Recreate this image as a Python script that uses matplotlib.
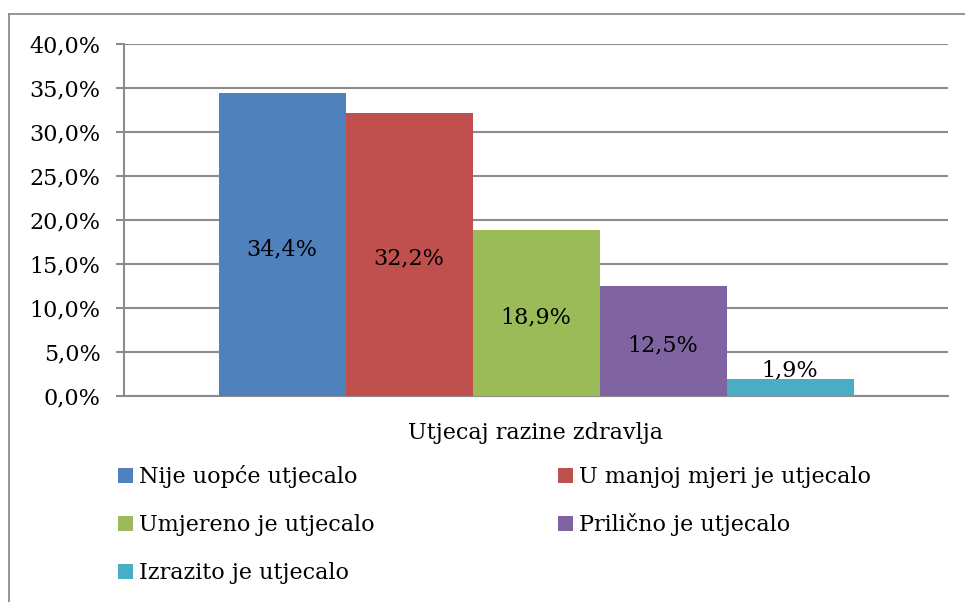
import matplotlib.pyplot as plt
from matplotlib.lines import Line2D

# data
categories = ["Utjecaj razine zdravlja"]
series_names = [
    "Nije uopće utjecalo",
    "U manjoj mjeri je utjecalo",
    "Umjereno je utjecalo",
    "Prilično je utjecalo",
    "Izrazito je utjecalo",
]
values = [34.4, 32.2, 18.9, 12.5, 1.9]
colors = ["#4F81BD", "#C0504D", "#9BBB59", "#8064A2", "#4BACC6"]
yticks = [0, 5, 10, 15, 20, 25, 30, 35, 40]

plt.rcParams["font.family"] = ["DejaVu Serif"]
W, H = 965, 602
FS = 16
fig = plt.figure(figsize=(W / 100, H / 100), dpi=100)

grid_c = "#8c8c8c"

# outer chart frame (only top and left edges visible in the crop)
fig.add_artist(Line2D([9 / W, 1], [1 - 14 / H, 1 - 14 / H], color=grid_c, lw=1.3, transform=fig.transFigure))
fig.add_artist(Line2D([9 / W, 9 / W], [0, 1 - 14 / H], color=grid_c, lw=1.3, transform=fig.transFigure))

ax = fig.add_axes([124 / W, 1 - 396 / H, (948 - 124) / W, (396 - 44) / H])

bar_w = 127 / 824
x0 = 0.5 - 2.5 * bar_w
for i, (name, v, c) in enumerate(zip(series_names, values, colors)):
    xc = x0 + (i + 0.5) * bar_w
    ax.bar(xc, v, width=bar_w, color=c, label=name, zorder=3)
    # Excel keeps the label inside the plot area for the short bar
    ly = max(v / 2 - 0.5, 2.85)
    ax.text(xc, ly, f"{v:.1f}%".replace(".", ","), ha="center", va="center",
            fontsize=FS, color="black", zorder=4)

ax.set_xlim(0, 1)
ax.set_ylim(0, 40)
ax.set_yticks(yticks)
ax.set_yticklabels([f"{t:.1f}%".replace(".", ",") for t in yticks], fontsize=FS)
ax.yaxis.grid(True, color=grid_c, lw=1.5, zorder=0)
ax.tick_params(axis="y", length=5.8, color=grid_c, width=1.5, pad=11)
ax.set_xticks([0.5])
ax.set_xticklabels(categories, fontsize=FS)
ax.tick_params(axis="x", length=0, pad=19)
for s in ["top", "right"]:
    ax.spines[s].set_visible(False)
ax.spines["left"].set_color(grid_c)
ax.spines["left"].set_linewidth(1.5)
ax.spines["bottom"].set_color(grid_c)
ax.spines["bottom"].set_linewidth(1.5)

# legend, Excel row-major order in two columns
for i, name in enumerate(series_names):
    row, col = divmod(i, 2)
    lx = [118, 558][col]
    ly = [476, 524, 572][row]
    fig.patches.append(plt.Rectangle((lx / W, 1 - (ly + 7) / H), 15 / W, 15 / H,
                                     facecolor=colors[i], edgecolor="none",
                                     transform=fig.transFigure))
    fig.text((lx + 21) / W, 1 - (ly + 1) / H, name, ha="left", va="center", fontsize=FS)

fig.savefig("out.png", dpi=100)
